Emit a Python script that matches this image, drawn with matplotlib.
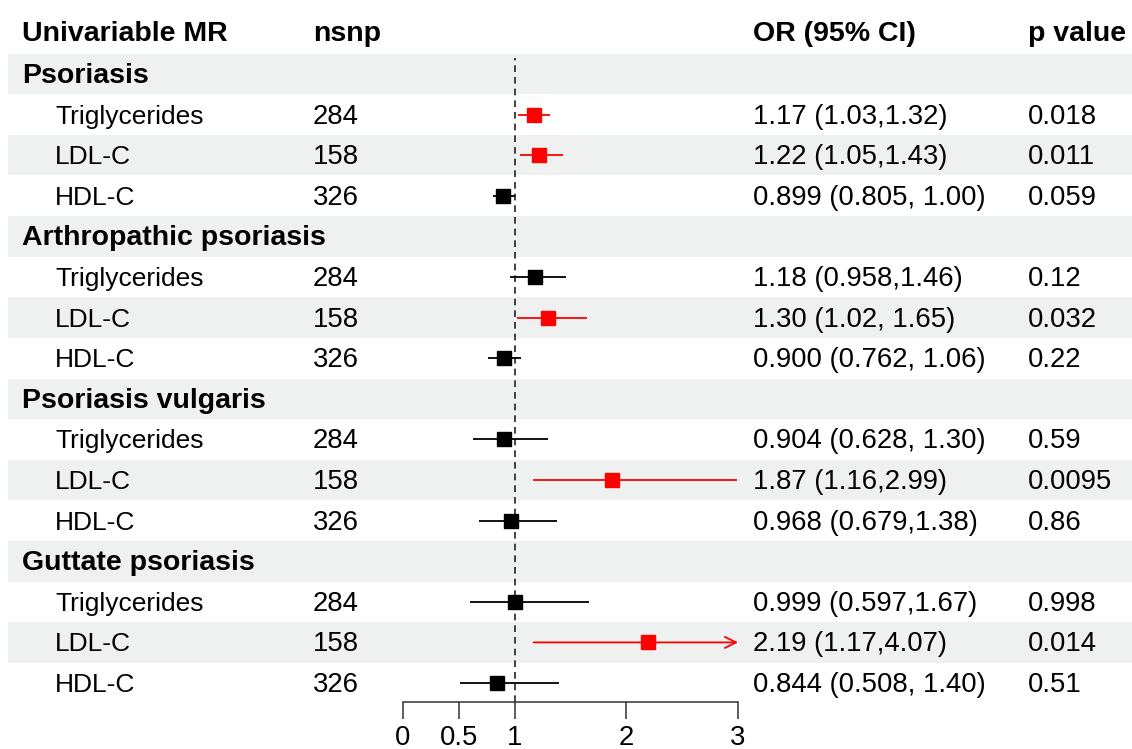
import matplotlib
matplotlib.use("Agg")
import matplotlib.pyplot as plt
import matplotlib.transforms as mtransforms

plt.rcParams['font.family'] = ['Liberation Sans', 'DejaVu Sans']

# outcome groups and exposures
groups = ["Psoriasis", "Arthropathic psoriasis", "Psoriasis vulgaris", "Guttate psoriasis"]
exposures = ["Triglycerides", "LDL-C", "HDL-C"]
nsnp = [284, 158, 326]

# odds ratios per group, in exposure order
or_est = [[1.17, 1.22, 0.899],
          [1.18, 1.30, 0.900],
          [0.904, 1.87, 0.968],
          [0.999, 2.19, 0.844]]
ci_low = [[1.03, 1.05, 0.805],
          [0.958, 1.02, 0.762],
          [0.628, 1.16, 0.679],
          [0.597, 1.17, 0.508]]
ci_high = [[1.32, 1.43, 1.00],
           [1.46, 1.65, 1.06],
           [1.30, 2.99, 1.38],
           [1.67, 4.07, 1.40]]
or_text = [["1.17 (1.03,1.32)", "1.22 (1.05,1.43)", "0.899 (0.805, 1.00)"],
           ["1.18 (0.958,1.46)", "1.30 (1.02, 1.65)", "0.900 (0.762, 1.06)"],
           ["0.904 (0.628, 1.30)", "1.87 (1.16,2.99)", "0.968 (0.679,1.38)"],
           ["0.999 (0.597,1.67)", "2.19 (1.17,4.07)", "0.844 (0.508, 1.40)"]]
p_text = [["0.018", "0.011", "0.059"],
          ["0.12", "0.032", "0.22"],
          ["0.59", "0.0095", "0.86"],
          ["0.998", "0.014", "0.51"]]
pvals = [[0.018, 0.011, 0.059],
         [0.12, 0.032, 0.22],
         [0.59, 0.0095, 0.86],
         [0.998, 0.014, 0.51]]

xticks = [0, 0.5, 1, 2, 3]
xmax = 3

W, H = 1132, 749
fig = plt.figure(figsize=(W / 100, H / 100), dpi=100)

# row layout in pixels
row0_px = 74
row_h = 40.6
bottom_px = 702
ytop = -1.5
ybot = (bottom_px - row0_px) / row_h
top_px = row0_px + ytop * row_h
ax_b = 1 - bottom_px / H
ax_h = (bottom_px - top_px) / H

bg = fig.add_axes([0, ax_b, 1, ax_h])
bg.set_xlim(0, 1)
bg.set_ylim(ybot, ytop)
bg.axis("off")

fx0, fx1 = 403 / W, 738 / W
ax = fig.add_axes([fx0, ax_b, fx1 - fx0, ax_h])
ax.set_xlim(0, xmax)
ax.set_ylim(ybot, ytop)
ax.patch.set_alpha(0)

fs_bold = 20.5
fs_lab = 19
fs_num = 19.8
dy = 0.05  # nudge text down a little
col_x = {"label": 22 / W, "item": 55 / W, "nsnp": 313 / W, "or": 753 / W, "p": 1028 / W}
trans = mtransforms.blended_transform_factory(fig.transFigure, bg.transData)

# header
hy = -1.03 + dy
bg.text(col_x["label"], hy, "Univariable MR", transform=trans, fontsize=fs_bold, fontweight="bold", va="center")
bg.text(col_x["nsnp"], hy, "nsnp", transform=trans, fontsize=fs_bold, fontweight="bold", va="center")
bg.text(col_x["or"], hy, "OR (95% CI)", transform=trans, fontsize=fs_bold, fontweight="bold", va="center")
bg.text(col_x["p"], hy, "p value", transform=trans, fontsize=fs_bold, fontweight="bold", va="center")

row = 0
n_rows = len(groups) * (len(exposures) + 1)
for r in range(0, n_rows, 2):
    bg.axhspan(r - 0.5, r + 0.5, xmin=8 / W, xmax=1, color="#eef1f0", lw=0, zorder=0)

for g, grp in enumerate(groups):
    bg.text(col_x["label"], row + dy, grp, transform=trans, fontsize=fs_bold, fontweight="bold", va="center")
    row += 1
    for e, exp in enumerate(exposures):
        bg.text(col_x["item"], row + dy, exp, transform=trans, fontsize=fs_lab, va="center")
        bg.text(col_x["nsnp"], row + dy, str(nsnp[e]), transform=trans, fontsize=fs_num, va="center")
        bg.text(col_x["or"], row + dy, or_text[g][e], transform=trans, fontsize=fs_num, va="center")
        bg.text(col_x["p"], row + dy, p_text[g][e], transform=trans, fontsize=fs_num, va="center")

        col = "#ff0000" if pvals[g][e] < 0.05 else "black"
        lo, hi = ci_low[g][e], ci_high[g][e]
        if hi > xmax:
            ax.annotate("", xy=(xmax, row), xytext=(lo, row),
                        arrowprops=dict(arrowstyle="->", color=col, lw=1.3,
                                        shrinkA=0, shrinkB=0, mutation_scale=20))
        else:
            ax.plot([lo, hi], [row, row], color=col, lw=1.3, solid_capstyle="butt")
        ax.plot(or_est[g][e], row, marker="s", ms=9.5, color=col, mec=col, zorder=3)
        row += 1

ax.axvline(1, ymin=0, ymax=(ybot - (-0.4)) / (ybot - ytop), color="#222222",
           lw=1.2, ls=(0, (4, 3)), zorder=1)

for s in ["top", "right", "left"]:
    ax.spines[s].set_visible(False)
ax.spines["bottom"].set_color("#333333")
ax.spines["bottom"].set_linewidth(1.1)
ax.set_yticks([])
ax.set_xticks(xticks)
ax.set_xticklabels([f"{t:g}" for t in xticks])
ax.tick_params(axis="x", length=12.5, width=1.1, color="#333333", labelsize=fs_num, pad=4)

fig.savefig("out.png", dpi=100)
